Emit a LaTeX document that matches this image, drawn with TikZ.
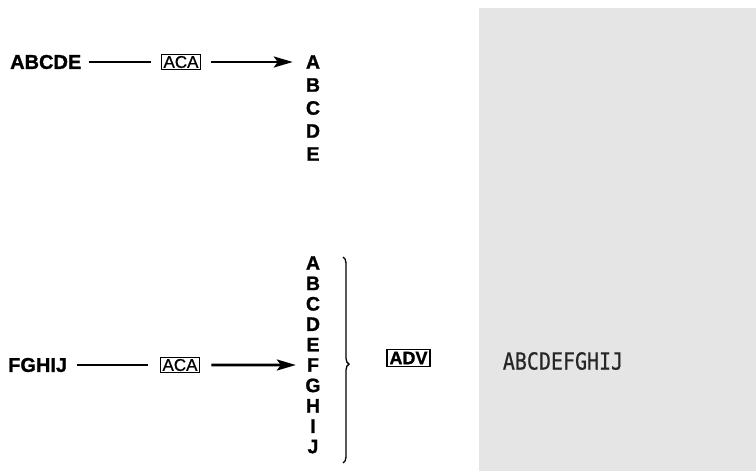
\documentclass[tikz,border=0pt]{standalone}
\usepackage{fontspec}
\setmainfont{Liberation Sans}[BoldFeatures={FakeBold=1.2}]
\newfontfamily\keyfont{Liberation Sans}[FakeBold=0.8]
\newfontfamily\lcdfont{DejaVu Sans Mono}[FakeStretch=0.85, FakeBold=0.6]
\usetikzlibrary{arrows.meta,decorations.pathreplacing}
\tikzset{
	word/.style={font=\fontsize{20}{20}\selectfont\bfseries, inner sep=0pt},
	letter/.style={font=\fontsize{19.5}{19.5}\selectfont\bfseries, inner sep=0pt},
	key/.style={draw, line width=1pt, font=\keyfont\fontsize{17}{17}\selectfont, inner xsep=2.5pt, inner ysep=1.5pt},
	feed/.style={line width=2pt},
	push/.style={line width=2.6pt, -{Stealth[length=19pt,width=11pt,inset=4pt]}},
}

\begin{document}
\begin{tikzpicture}[x=1pt, y=-1pt]
		%%%%% START %%%%%
		\useasboundingbox (0, 0) rectangle (756, 471);
		
		\fill[gray!20] (479, 8) rectangle (756, 471);
		\node[font=\lcdfont\fontsize{23.5}{23.5}\selectfont, color=black!85] (disp) at (563, 361) {ABCDEFGHIJ};
		
		\node[word, anchor=west] (in1) at (10, 62) {ABCDE};
		\node[key] (aca1) at (181, 62) {ACA};
		\foreach \l [count=\i] in {A,B,C,D,E}
			\node[letter] (r1-\i) at (313, {62+23*(\i-1)}) {\l};
		\draw[feed, shorten <=7pt, shorten >=10pt] (in1) -- (aca1);
		\draw[push, shorten <=10pt, shorten >=13pt] (aca1) -- (r1-1);
		
		\node[word, anchor=west] (in2) at (8, 365) {FGHIJ};
		\node[key] (aca2) at (180, 365) {ACA};
		\foreach \l [count=\i] in {A,B,C,D,E,F,G,H,I,J}
			\node[letter] (r2-\i) at (313, {263+20.4*(\i-1)}) {\l};
		\draw[feed, shorten <=10pt, shorten >=12pt] (in2) -- (aca2);
		\draw[push, shorten <=11pt, shorten >=11pt] (aca2) -- (r2-6);
		
		\draw[line width=1.3pt, decorate, decoration={brace, amplitude=6pt, aspect=0.52}] (343, 257) -- (343, 463);
		\node[key, font=\fontsize{18}{18}\selectfont\bfseries, line width=1.3pt, inner ysep=2.5pt] (adv) at (408.5, 358) {ADV};
		
		%%%%% END %%%%%
	\end{tikzpicture}
\end{document}
